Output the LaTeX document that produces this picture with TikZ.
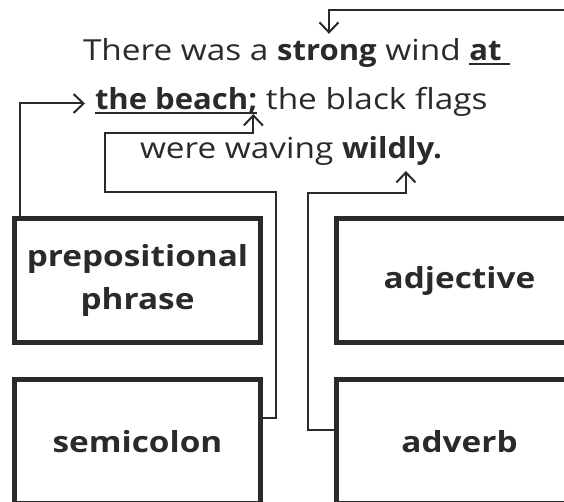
\documentclass[tikz,border=0pt]{standalone}
\usepackage{fontspec}
\setmainfont{Open Sans}[FakeStretch=1.15]
\newfontfamily{\sentfam}{Open Sans}[FakeStretch=1.15, BoldFeatures={FakeStretch=1.07}]
\usetikzlibrary{positioning,arrows.meta}
\definecolor{ink}{HTML}{2A2A2A}
\newsavebox{\ulbox}
\newcommand{\undl}[1]{\sbox{\ulbox}{#1}\rlap{\rule[-5pt]{\wd\ulbox}{2pt}}\usebox{\ulbox}}
\tikzset{
  card/.style={draw=ink, line width=5pt, minimum width=246pt, minimum height=124pt,
    text=ink, font=\bfseries\fontsize{29}{43}\selectfont, align=center, inner sep=0pt},
  sent/.style={text=ink, font=\sentfam\fontsize{29}{34}\selectfont, inner sep=0pt, outer sep=0pt},
  link/.style={draw=ink, line width=2pt, -{Straight Barb[length=10pt,width=19pt]}}
}
\begin{document}
\begin{tikzpicture}[x=1pt,y=-1pt]
  \useasboundingbox (0,0) rectangle (564,501);
  \clip (0,0) rectangle (564,501);

  % the sentence
  \node[sent, anchor=base west] (l1a) at (83,60) {There was a\ \null};
  \node[sent, base right=0pt of l1a] (strong) {\textbf{strong}};
  \node[sent, base right=0pt of strong] (l1b) {\ wind \undl{\textbf{at\ }}};
  \node[sent, anchor=base west] (beach) at (95,109) {\undl{\textbf{the beach;}}};
  \node[sent, base right=0pt of beach] (l2b) {\ the black flags};
  \node[sent, anchor=base west] (l3a) at (140,158) {were waving\ \null};
  \node[sent, base right=0pt of l3a] (wildly) {\textbf{wildly.}};

  % the cards
  \node[card] (prep) at (137.5,280.5) {prepositional\\phrase};
  \node[card] (adj)  at (459.5,280.5) {adjective};
  \node[card] (semi) at (137.5,441.5) {semicolon};
  \node[card] (adv)  at (459.5,441.5) {adverb};

  \coordinate (adjend) at (570,9.5);

  % links
  \draw[link] (adjend) -| ([xshift=2pt,yshift=7pt]strong.north);
  \draw[link] ([xshift=8pt]prep.north west) |- ([xshift=-10pt,yshift=-3pt]beach.west);
  \draw[link] ([yshift=24pt]semi.east) -| (276,192) -| (105,133) -| ([xshift=-4pt]beach.south east);
  \draw[link] ([yshift=11.5pt]adv.west) -| (308,193) -| ([xshift=14pt,yshift=-6pt]wildly.south);
\end{tikzpicture}
\end{document}
